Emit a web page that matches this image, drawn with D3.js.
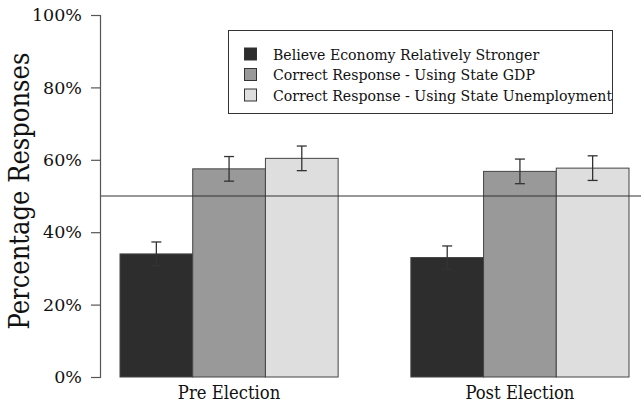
<!DOCTYPE html>
<html>
<head>
<meta charset="utf-8">
<script src="https://cdn.jsdelivr.net/npm/d3@7"></script>
<style>
  html, body { margin: 0; padding: 0; background: #fff; }
  svg { display: block; }
  text { font-family: "DejaVu Serif", "Liberation Serif", serif; fill: #111; }
  .cond { font-family: "DejaVu Serif Condensed", "DejaVu Serif", serif; font-stretch: condensed; }
</style>
</head>
<body>
<svg id="chart" width="641" height="404"></svg>
<script>
// Survey groups and response series
const groups = ["Pre Election", "Post Election"];
const series = [
  "Believe Economy Relatively Stronger",
  "Correct Response - Using State GDP",
  "Correct Response - Using State Unemployment"
];
// Percent of responses per group, in series order
const preValues = [34.0, 57.5, 60.4];
const postValues = [33.0, 56.8, 57.7];
// Half-width of the error bars (percentage points)
const preErrors = [3.3, 3.4, 3.4];
const postErrors = [3.2, 3.4, 3.4];
const yTicks = [0, 20, 40, 60, 80, 100];
const referenceLine = 50;

const fills = ["#2d2d2d", "#999999", "#dedede"];

const data = groups.map((g, gi) => {
  const vals = gi === 0 ? preValues : postValues;
  const errs = gi === 0 ? preErrors : postErrors;
  return series.map((s, si) => ({ group: g, series: s, value: vals[si], err: errs[si], idx: si }));
});

const svg = d3.select("#chart");

const y = d3.scaleLinear().domain([0, 100]).range([377, 15]);
const x0 = d3.scaleBand().domain(groups).range([120, 629]).paddingInner(0.25).paddingOuter(0);
const x1 = d3.scaleBand().domain(series).range([0, x0.bandwidth()]).padding(0);

// Bars
const gGroups = svg.append("g").selectAll("g")
  .data(data).join("g")
  .attr("transform", d => `translate(${x0(d[0].group)},0)`);

gGroups.selectAll("rect")
  .data(d => d).join("rect")
  .attr("x", d => x1(d.series))
  .attr("y", d => y(d.value))
  .attr("width", x1.bandwidth())
  .attr("height", d => y(0) - y(d.value))
  .attr("fill", d => fills[d.idx])
  .attr("stroke", "#444")
  .attr("stroke-width", 1);

// Reference line at 50%
svg.append("line")
  .attr("x1", 100).attr("x2", 641)
  .attr("y1", y(referenceLine)).attr("y2", y(referenceLine))
  .attr("stroke", "#333").attr("stroke-width", 1);

// Error bars
const eb = gGroups.selectAll("g.err")
  .data(d => d).join("g").attr("class", "err")
  .attr("stroke", "#333").attr("stroke-width", 1.3);
const cx = d => x1(d.series) + x1.bandwidth() / 2;
eb.append("line")
  .attr("x1", cx).attr("x2", cx)
  .attr("y1", d => y(d.value + d.err)).attr("y2", d => y(d.value - d.err));
eb.append("line")
  .attr("x1", d => cx(d) - 5).attr("x2", d => cx(d) + 5)
  .attr("y1", d => y(d.value + d.err)).attr("y2", d => y(d.value + d.err));
eb.append("line")
  .attr("x1", d => cx(d) - 5).attr("x2", d => cx(d) + 5)
  .attr("y1", d => y(d.value - d.err)).attr("y2", d => y(d.value - d.err));

// Y axis
const yAxis = svg.append("g")
  .attr("transform", "translate(100,0)")
  .call(d3.axisLeft(y).tickValues(yTicks).tickFormat(d => d + "%").tickSize(9).tickPadding(9));
yAxis.select(".domain").attr("stroke", "#555").attr("stroke-width", 1.2);
yAxis.selectAll(".tick line").attr("stroke", "#555").attr("stroke-width", 1.2);
yAxis.selectAll(".tick text")
  .attr("font-family", "DejaVu Serif")
  .attr("font-size", 17.5)
  .attr("fill", "#111");

// Y title
svg.append("text")
  .attr("class", "cond")
  .attr("transform", "translate(29,191) rotate(-90)")
  .attr("text-anchor", "middle")
  .attr("font-size", 27)
  .text("Percentage Responses");

// Group labels
svg.append("g").selectAll("text")
  .data(groups).join("text")
  .attr("class", "cond")
  .attr("x", d => x0(d) + x0.bandwidth() / 2)
  .attr("y", 399)
  .attr("text-anchor", "middle")
  .attr("font-size", 18.3)
  .text(d => d);

// Legend
const legend = svg.append("g");
legend.append("rect")
  .attr("x", 228.5).attr("y", 30.5)
  .attr("width", 384).attr("height", 83)
  .attr("fill", "#fff").attr("stroke", "#333").attr("stroke-width", 1);
const rows = legend.selectAll("g.row")
  .data(series).join("g").attr("class", "row")
  .attr("transform", (d, i) => `translate(0,${54 + i * 20.5})`);
rows.append("rect")
  .attr("x", 244.5).attr("y", -6)
  .attr("width", 12).attr("height", 12)
  .attr("fill", (d, i) => fills[i])
  .attr("stroke", "#333").attr("stroke-width", 1);
rows.append("text")
  .attr("class", "cond")
  .attr("x", 273).attr("y", 0)
  .attr("dy", "0.35em")
  .attr("font-size", 15.7)
  .text(d => d);
</script>
</body>
</html>
